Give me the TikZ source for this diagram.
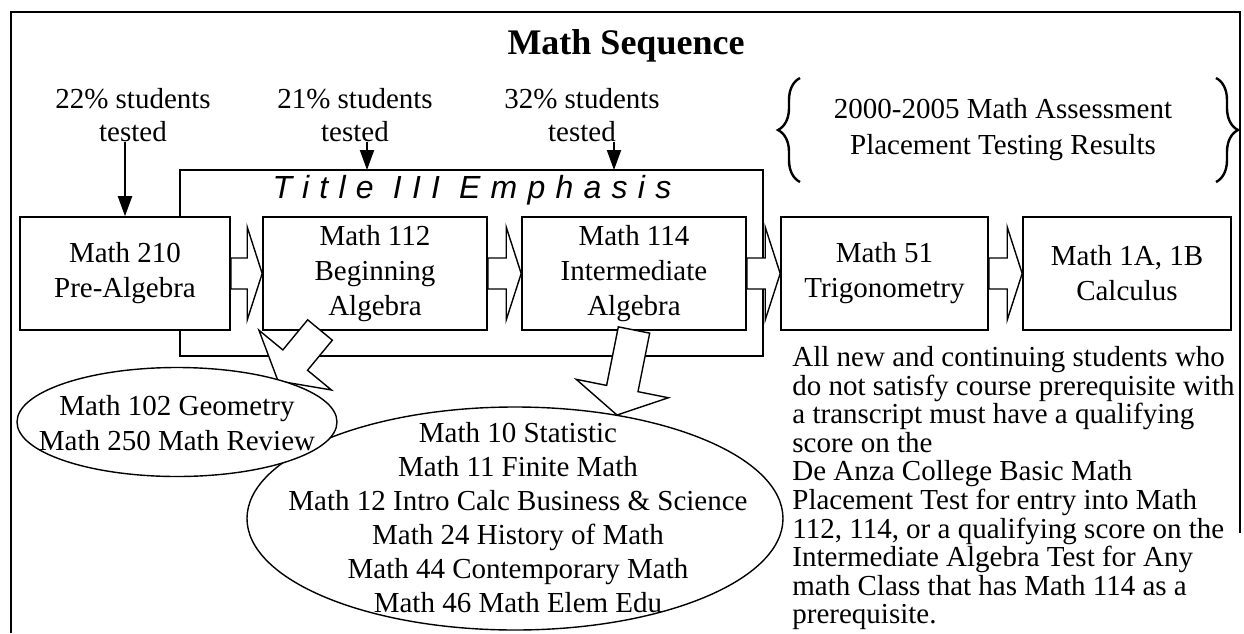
\documentclass[tikz,border=0pt]{standalone}
\usepackage{fontspec}
\setmainfont{Liberation Serif}
\newfontfamily\spacedsans[LetterSpace=32]{Liberation Sans}
\usetikzlibrary{shapes.geometric,calc,decorations.pathreplacing,arrows.meta}

\tikzset{
  words/.style={inner sep=0pt,align=center,font=\fontsize{14.5}{16.5}\selectfont},
  course/.style={draw,line width=0.8pt,fill=white,minimum height=56.5pt,inner sep=0pt,align=center,font=\fontsize{14.5}{17.5}\selectfont},
  blockarr/.style={draw,line width=0.7pt,fill=white,line join=miter},
  bubble/.style={draw,ellipse,line width=0.7pt,inner sep=0pt},
  testarr/.style={line width=1pt,-{Triangle[length=10pt,width=7pt]}},
  bracket/.style={decorate,decoration={brace,amplitude=11pt},line width=1.2pt}
}

\newcommand{\passto}[2]{\draw[blockarr] ($(#1.east)+(0,-15.5)$) -- ($(#2.west)+(-15,-15.5)$) -- ($(#2.west)+(-15,-46.5)$) -- (#2.west) -- ($(#2.west)+(-15,46.5)$) -- ($(#2.west)+(-15,15.5)$) -- ($(#1.east)+(0,15.5)$) -- cycle;}
\newcommand{\dropto}[3]{\begin{scope}[shift={(#1)},rotate=#2]
  \draw[blockarr] (0,-16) -- (#3-27,-16) -- (#3-27,-47) -- (#3,0) -- (#3-27,47) -- (#3-27,16) -- (0,16) -- cycle;
\end{scope}}

\begin{document}
\begin{tikzpicture}[x=0.5pt,y=-0.5pt]
\useasboundingbox (0,0) rectangle (1244,633);
\draw[line width=1pt] (11,633) -- (11,12) -- (1240,12) -- (1240,533);

\node[font=\fontsize{18}{20}\selectfont\bfseries] (title) at (626,46) {Math Sequence};

\node[draw,line width=0.8pt,minimum width=291.5pt,minimum height=93pt,inner sep=0pt] (t3) at (471.5,263) {};
\node[font=\spacedsans\itshape\fontsize{16}{18}\selectfont,inner sep=0pt] (t3title) at (472,190) {Title III Emphasis};

\node[course,minimum width=105pt] (b210) at (125,273.5) {Math 210\\Pre-Algebra};
\node[course,minimum width=112pt] (b112) at (375,273.5) {Math 112\\Beginning\\Algebra};
\node[course,minimum width=112pt] (b114) at (634,273.5) {Math 114\\Intermediate\\Algebra};
\node[course,minimum width=103.5pt] (b51) at (884.5,273.5) {Math 51\\Trigonometry};
\node[course,minimum width=104pt] (b1ab) at (1127,273.5) {Math 1A, 1B\\Calculus};

\passto{b210}{b112}
\passto{b112}{b114}
\passto{b114}{b51}
\passto{b51}{b1ab}

\node[words] (p22) at (133,115) {22\% students\\tested};
\node[words] (p21) at (355,115) {21\% students\\tested};
\node[words] (p32) at (582,115) {32\% students\\tested};
\coordinate (ta2) at (367,170);
\coordinate (ta3) at (614,170);
\draw[testarr] (p22.south -| b210.north) -- (b210.north);
\draw[testarr] (p21.south -| ta2) -- (ta2);
\draw[testarr] (p32.south -| ta3) -- (ta3);

\node[words,font=\fontsize{14.5}{18}\selectfont] (assess) at (1003,130) {2000-2005 Math Assessment\\Placement Testing Results};
\draw[bracket] (800,182) -- (800,78);
\draw[bracket] (1216,78) -- (1216,182);

\coordinate (dt1) at (320,330);
\coordinate (dt2) at (634,330);
\dropto{dt1}{-129.5}{66}
\dropto{dt2}{-101.3}{86.7}

\node[bubble,minimum width=268pt,minimum height=111.5pt] (e2) at (515,518.5) {};
\node[words,font=\fontsize{14.5}{17}\selectfont] (e2txt) at (518,518) {Math 10 Statistic\\Math 11 Finite Math\\Math 12 Intro Calc Business \& Science\\Math 24 History of Math\\Math 44 Contemporary Math\\Math 46 Math Elem Edu};
\node[bubble,fill=white,minimum width=160pt,minimum height=54.5pt] (e1) at (177,422) {};
\node[words,font=\fontsize{14.5}{17.5}\selectfont] (e1txt) at (177,423) {Math 102 Geometry\\Math 250 Math Review};

\node[words,anchor=north west,align=left,font=\fontsize{14.5}{14.3}\selectfont] (note) at (792,346) {All new and continuing students who\\do not satisfy course prerequisite with\\a transcript must have a qualifying\\score on the\\De Anza College Basic Math\\Placement Test for entry into Math\\112, 114, or a qualifying score on the\\Intermediate Algebra Test for Any\\math Class that has Math 114 as a\\prerequisite.};
\end{tikzpicture}
\end{document}
